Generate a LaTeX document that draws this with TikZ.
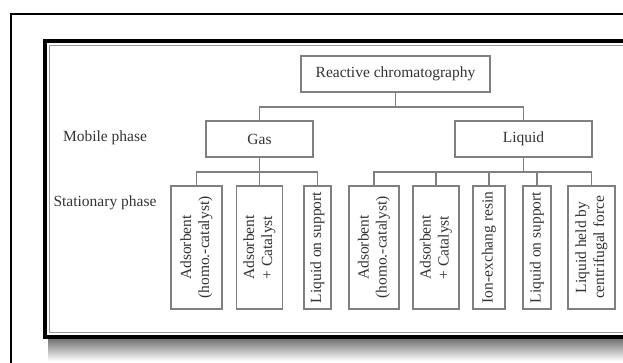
\documentclass[tikz,border=0pt]{standalone}
\usepackage{fontspec}
\setmainfont{Liberation Serif}
\usepackage{graphicx}
\begin{document}
\begin{tikzpicture}[x=1pt,y=-1pt,
  box/.style={draw=black!50, line width=1.1pt, inner sep=0pt, text=black!80, font=\fontsize{15.5}{18}\selectfont},
  lbl/.style={text=black!80, font=\fontsize{15.5}{18}\selectfont, inner sep=0pt},
  conn/.style={draw=black!50, line width=1.1pt}]
\useasboundingbox (0,0) rectangle (623,363);
\clip (0,0) rectangle (623,363);
\fill[white] (0,0) rectangle (623,363);
% outer frame
\draw[line width=1.6pt] (11,700) -- (11,14) -- (700,14);
% shadow
\shade[top color=black!55, bottom color=white] (48,339) rectangle (700,361);
% inner frame
\fill[white] (45,41) rectangle (700,337);
\draw[line width=3.5pt] (700,41) -- (45,41) -- (45,337) -- (700,337);
\draw[black!40, line width=1pt] (700,45.5) -- (49,45.5) -- (49,332) -- (700,332);

% labels
\node[lbl] (mob) at (105,138) {Mobile phase};
\node[lbl] (sta) at (105,203) {Stationary phase};

% top levels
\node[box, minimum width=189pt, minimum height=36pt] (rc) at (395.5,74) {Reactive chromatography};
\node[box, minimum width=107pt, minimum height=36pt] (gas) at (259.5,139) {Gas};
\node[box, minimum width=137pt, minimum height=36pt] (liq) at (523.5,139) {Liquid};

% stationary boxes
\node[box, minimum width=51pt, minimum height=123pt] (g1) at (196.5,247.5)
  {\rotatebox{90}{\begin{tabular}{@{}c@{}}Adsorbent\\(homo.-catalyst)\end{tabular}}};
\node[box, minimum width=46pt, minimum height=123pt] (g2) at (259.5,247.5)
  {\rotatebox{90}{\begin{tabular}{@{}c@{}}Adsorbent\\+ Catalyst\end{tabular}}};
\node[box, minimum width=27pt, minimum height=123pt] (g3) at (317.5,247.5)
  {\rotatebox{90}{Liquid on support}};
\node[box, minimum width=50pt, minimum height=123pt] (l1) at (374,247.5)
  {\rotatebox{90}{\begin{tabular}{@{}c@{}}Adsorbent\\(homo.-catalyst)\end{tabular}}};
\node[box, minimum width=46pt, minimum height=123pt] (l2) at (436,247.5)
  {\rotatebox{90}{\begin{tabular}{@{}c@{}}Adsorbent\\+ Catalyst\end{tabular}}};
\node[box, minimum width=32pt, minimum height=123pt] (l3) at (489,247.5)
  {\rotatebox{90}{Ion-exchang resin}};
\node[box, minimum width=28pt, minimum height=123pt] (l4) at (537,247.5)
  {\rotatebox{90}{Liquid on support}};
\node[box, minimum width=47pt, minimum height=123pt] (l5) at (591.5,247.5)
  {\rotatebox{90}{\begin{tabular}{@{}c@{}}Liquid held by\\centrifugal force\end{tabular}}};

% connectors
\coordinate (tbus) at (395.5,107);
\draw[conn] (rc.south) -- (tbus);
\draw[conn] (gas.north) |- (tbus);
\draw[conn] (liq.north) |- (tbus);

\coordinate (gbus) at (259.5,172);
\draw[conn] (gas.south) -- (gbus);
\draw[conn] (g1.north) |- (gbus);
\draw[conn] (g2.north) |- (gbus);
\draw[conn] (g3.north) |- (gbus);

\coordinate (lbus) at (523.5,172);
\draw[conn] (liq.south) -- (lbus);
\draw[conn] (l1.north) |- (lbus);
\draw[conn] (l2.north) |- (lbus);
\draw[conn] (l3.north) |- (lbus);
\draw[conn] (l4.north) |- (lbus);
\draw[conn] (l5.north) |- (lbus);
\end{tikzpicture}
\end{document}
